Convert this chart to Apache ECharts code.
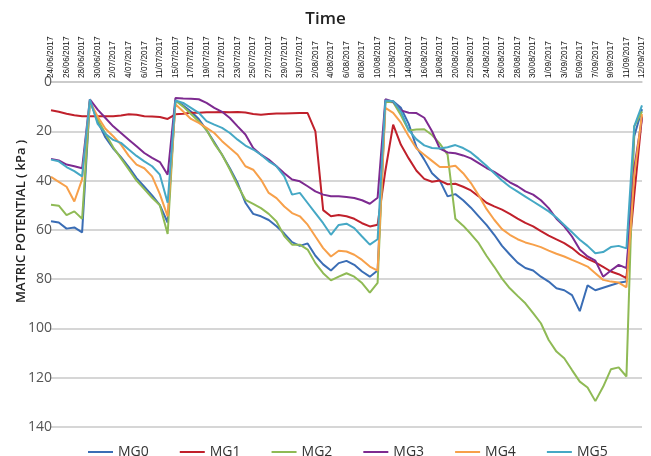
<!DOCTYPE html>
<html>
<head>
<meta charset="utf-8">
<script src="https://cdn.jsdelivr.net/npm/echarts@6/dist/echarts.min.js"></script>
<style>
  html, body { margin: 0; padding: 0; background: #fff; }
  #chart { width: 651px; height: 456px; }
</style>
</head>
<body>
<div id="chart"></div>
<script>
// dates on the category axis (labels shown every other one)
const dates = [
  '24/06/2017', '25/06/2017', '26/06/2017', '27/06/2017', '28/06/2017', '29/06/2017', '30/06/2017',
  '1/07/2017', '2/07/2017', '3/07/2017', '4/07/2017', '5/07/2017', '6/07/2017', '8/07/2017',
  '11/07/2017', '13/07/2017', '15/07/2017', '16/07/2017', '17/07/2017', '18/07/2017', '19/07/2017',
  '20/07/2017', '21/07/2017', '22/07/2017', '23/07/2017', '24/07/2017', '25/07/2017', '26/07/2017',
  '27/07/2017', '28/07/2017', '29/07/2017', '30/07/2017', '31/07/2017', '1/08/2017', '2/08/2017',
  '3/08/2017', '4/08/2017', '5/08/2017', '6/08/2017', '7/08/2017', '8/08/2017', '9/08/2017',
  '10/08/2017', '11/08/2017', '12/08/2017', '13/08/2017', '14/08/2017', '15/08/2017', '16/08/2017',
  '17/08/2017', '18/08/2017', '19/08/2017', '20/08/2017', '21/08/2017', '22/08/2017', '23/08/2017',
  '24/08/2017', '25/08/2017', '26/08/2017', '27/08/2017', '28/08/2017', '29/08/2017', '30/08/2017',
  '31/08/2017', '1/09/2017', '2/09/2017', '3/09/2017', '4/09/2017', '5/09/2017', '6/09/2017',
  '7/09/2017', '8/09/2017', '9/09/2017', '10/09/2017', '11/09/2017', '12/09/2017', '12/09/2017'
]

const yTicks = [0, 20, 40, 60, 80, 100, 120, 140]

const mg0 = [
  56.5, 57, 59.5, 59, 61, 7.5, 16, 22.5, 27, 30.5, 34.5, 39, 42.5, 46, 50, 57,
  7.5, 9.5, 12, 15, 19.5, 24.5, 29.5, 35, 41, 49, 53.5, 54.5, 56, 58.5, 61.5, 65,
  66.5, 65.5, 70.5, 74, 76.5, 73.5, 72.6, 74.2, 76.9, 79, 76.5, 7.8, 7.8, 10.5, 17, 26.5,
  31.5, 37, 40, 46.4, 45.5, 48, 51, 54.5, 58, 62, 66.5, 70, 73.3, 75.5, 76.5, 79,
  81, 83.7, 84.5, 86.5, 93, 82.5, 84.5, 83.5, 82.5, 81.5, 81, 22, 11
]
const mg1 = [
  11.5, 12.1, 12.9, 13.5, 13.9, 13.9, 13.9, 13.9, 13.9, 13.6, 13.1, 13.3, 13.9, 14, 14.2, 15,
  13.1, 12.9, 12.5, 12.5, 12.3, 12.3, 12.2, 12.3, 12.2, 12.4, 13, 13.3, 13, 12.8, 12.8, 12.7,
  12.6, 12.6, 20, 52, 54.5, 54, 54.5, 55.5, 57.3, 58.6, 57.9, 36, 17.3, 25.5, 31, 36,
  39.3, 40.5, 40, 41.5, 41.3, 42.5, 44, 46.4, 49, 50.5, 51.8, 53.5, 55.4, 57.2, 58.6, 60.5,
  62.3, 63.9, 65.4, 67.4, 70, 71.8, 73.2, 75, 76.9, 78, 79.6, 46, 14
]
const mg2 = [
  49.8, 50.2, 54, 52.5, 55.5, 8, 15, 21, 26.5, 31, 35.5, 40, 43.5, 47, 50, 61.7,
  7.5, 10, 13, 16, 19.5, 25, 29.5, 35.5, 42, 47.8, 49.5, 51.2, 53.5, 56.6, 62.5, 66,
  66, 68, 73.5, 77.6, 80.5, 79, 77.6, 79, 81.6, 85.5, 81.5, 8, 8.2, 13.5, 19.7, 19.3,
  19.2, 21.5, 25, 29.5, 55.5, 58.3, 61.7, 65.4, 70.5, 75, 79.8, 83.7, 86.8, 89.8, 93.8, 97.9,
  104.7, 109.4, 112.1, 116.9, 121.6, 124, 129.5, 123.7, 116.6, 115.8, 119.5, 18, 12
]
const mg3 = [
  31.2, 31.8, 33.5, 34.2, 35, 7, 11.2, 14.6, 18, 20.7, 23.4, 26.1, 28.8, 30.8, 32.5, 37.6,
  6.5, 6.7, 6.8, 7, 8.5, 10.5, 12.1, 14.6, 18, 21.3, 26.8, 29.5, 31.5, 34.2, 37, 39.6,
  40.3, 42.3, 44.4, 45.7, 46.4, 46.4, 46.7, 47.1, 48, 49.4, 47, 7, 8, 11.5, 12.5, 12.6,
  14.5, 20, 27, 28.6, 28.9, 29.8, 31, 32.9, 34.9, 36.5, 38.5, 40.7, 42.3, 44.4, 45.7, 48,
  51.2, 55.5, 58.6, 62.7, 68, 70.8, 72.5, 79, 76.5, 74.2, 75.5, 35, 14.5
]
const mg4 = [
  38.5, 40.5, 42.5, 48.5, 39.5, 8, 14, 19, 22, 25.4, 30, 33.5, 35, 38.3, 45.5, 54.5,
  9, 12, 15, 16.6, 18.6, 20.7, 24, 26.8, 29.5, 34.2, 35.6, 39.6, 45, 47.1, 50.5, 53.2,
  54.5, 57.9, 62.7, 67.4, 70.8, 68.5, 68.8, 70.1, 72.2, 74.9, 76.5, 10.5, 12.5, 16.5, 22, 27,
  29.5, 32, 34.5, 34.5, 34, 37, 41, 46, 51.5, 55.9, 59.7, 62, 63.8, 65.1, 66, 67,
  68.4, 69.7, 70.8, 72.2, 73.5, 74.9, 77.6, 80.3, 81, 81.4, 83.3, 38, 13
]
const mg5 = [
  31.5, 32.2, 34.5, 36.2, 38.3, 7, 17, 21, 23.5, 24.7, 27.4, 30, 32.2, 34.2, 37.6, 49,
  7.5, 8.5, 10.5, 12.5, 15.9, 17.3, 18.6, 20.7, 23.4, 25.8, 27.4, 29.5, 32.2, 34.2, 38.3, 45.7,
  45, 49.1, 53.2, 57.3, 62, 58, 57.5, 59.3, 62.7, 66, 63.8, 7.5, 7.8, 12, 19.5, 23.3,
  25.7, 26.8, 27, 26.5, 25.6, 26.8, 28.6, 31.2, 34, 37, 40, 42.5, 44.5, 46.5, 48.5, 50.5,
  52.5, 55, 58, 61, 64, 66.5, 69.5, 69, 67, 66.5, 67.5, 18, 9.5
]

const seriesNames = ['MG0', 'MG1', 'MG2', 'MG3', 'MG4', 'MG5']
const seriesData = [mg0, mg1, mg2, mg3, mg4, mg5]
const colors = ['#3a6db5', '#c0202b', '#8fba55', '#7d2a90', '#f7a04a', '#45a8c5']

const myChart = echarts.init(document.getElementById('chart'))

myChart.setOption({
  animation: false,
  color: colors,
  title: {
    text: 'Time',
    left: 'center',
    top: 6,
    textStyle: {
      fontFamily: 'Open Sans',
      fontSize: 17,
      fontWeight: 600,
      color: '#222'
    }
  },
  // plot area
  grid: {
    left: 51,
    right: 9,
    top: 82,
    bottom: 29,
    containLabel: false
  },
  // legend with plain line keys
  legend: {
    left: 83,
    top: 440,
    itemGap: 31,
    itemWidth: 25,
    itemHeight: 2,
    icon: 'rect',
    textStyle: {
      fontFamily: 'Open Sans',
      fontSize: 14,
      color: '#333'
    },
    data: seriesNames
  },
  xAxis: {
    type: 'category',
    position: 'top',
    boundaryGap: false,
    data: dates,
    axisLine: { show: true, lineStyle: { color: '#c8c8c8', width: 1.5 } },
    axisTick: { show: false },
    axisLabel: {
      interval: 1,
      rotate: 90,
      margin: 4,
      fontFamily: 'Liberation Sans',
      fontSize: 8.3,
      color: '#111'
    },
    splitLine: { show: false }
  },
  yAxis: {
    type: 'value',
    inverse: true,
    min: yTicks[0],
    max: yTicks[yTicks.length - 1],
    interval: 20,
    name: 'MATRIC POTENTIAL ( kPa )',
    nameLocation: 'middle',
    nameGap: 23,
    nameMoveOverlap: false,
    nameTextStyle: {
      fontFamily: 'Open Sans',
      fontSize: 13,
      fontWeight: 600,
      color: '#222',
      padding: [0, 0, 0, 66]
    },
    axisLine: { show: false },
    axisTick: { show: false },
    axisLabel: {
      margin: -1,
      fontFamily: 'Open Sans',
      fontSize: 14,
      color: '#555'
    },
    splitLine: { lineStyle: { color: '#c8c8c8', width: 1.5 } }
  },
  series: seriesNames.map((name, i) => {
    return {
      name: name,
      type: 'line',
      symbol: 'none',
      data: seriesData[i],
      lineStyle: { width: 2 }
    }
  })
})
</script>
</body>
</html>
